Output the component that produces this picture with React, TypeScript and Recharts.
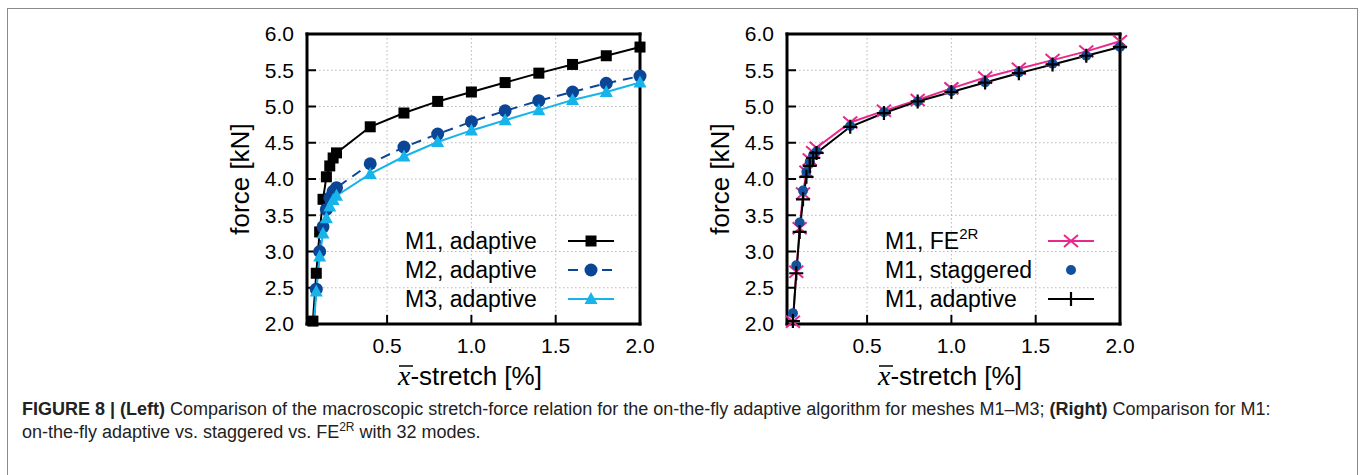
import React from "react";
import { ComposedChart, Line, Scatter, XAxis, YAxis, CartesianGrid } from "recharts";

// x̄-stretch [%] sample positions shared by every series
const STRETCH = [0.06, 0.08, 0.1, 0.12, 0.14, 0.16, 0.18, 0.2, 0.4, 0.6, 0.8, 1.0, 1.2, 1.4, 1.6, 1.8, 2.0];
const X_TICKS = [0.5, 1.0, 1.5, 2.0];
const Y_TICKS = [2.0, 2.5, 3.0, 3.5, 4.0, 4.5, 5.0, 5.5, 6.0];

// force [kN]
const M1_ADAPTIVE = [2.04, 2.7, 3.27, 3.72, 4.03, 4.18, 4.29, 4.36, 4.72, 4.91, 5.07, 5.2, 5.33, 5.46, 5.58, 5.7, 5.82];
const M2_ADAPTIVE = [1.85, 2.48, 3.0, 3.34, 3.58, 3.74, 3.83, 3.88, 4.21, 4.44, 4.62, 4.79, 4.94, 5.08, 5.2, 5.32, 5.42];
const M3_ADAPTIVE = [1.8, 2.45, 2.93, 3.25, 3.46, 3.62, 3.71, 3.77, 4.07, 4.31, 4.51, 4.67, 4.81, 4.95, 5.09, 5.2, 5.33];
const M1_FE2R = [2.03, 2.72, 3.32, 3.8, 4.1, 4.27, 4.37, 4.43, 4.78, 4.94, 5.09, 5.25, 5.4, 5.52, 5.64, 5.76, 5.9];
const M1_STAGGERED = [2.15, 2.81, 3.4, 3.84, 4.1, 4.24, 4.33, 4.38, 4.73, 4.92, 5.07, 5.21, 5.33, 5.47, 5.59, 5.7, 5.82];

const FONT = "'Liberation Sans', Arial, Helvetica, sans-serif";

type Marker = "square" | "circle" | "triangle" | "cross" | "dot" | "plus";

type Series = {
  label: React.ReactNode;
  ys: number[];
  color: string;
  dash?: string;
  line: boolean;
  marker: Marker;
};

const points = (ys: number[]) => STRETCH.map((x, i) => ({ x, y: ys[i] }));

function drawMarker(kind: Marker, cx: number, cy: number, color: string) {
  switch (kind) {
    case "square":
      return <rect x={cx - 5.5} y={cy - 5.5} width={11} height={11} fill={color} />;
    case "circle":
      return <circle cx={cx} cy={cy} r={6.5} fill={color} />;
    case "triangle":
      return <path d={`M${cx},${cy - 7}L${cx + 6.5},${cy + 5}L${cx - 6.5},${cy + 5}Z`} fill={color} />;
    case "dot":
      return <circle cx={cx} cy={cy} r={5} fill={color} />;
    case "cross":
      return (
        <path
          d={`M${cx - 7},${cy - 6}L${cx + 7},${cy + 6}M${cx - 7},${cy + 6}L${cx + 7},${cy - 6}`}
          stroke={color}
          strokeWidth={2}
          fill="none"
        />
      );
    default:
      return (
        <path
          d={`M${cx - 7},${cy}L${cx + 7},${cy}M${cx},${cy - 7}L${cx},${cy + 7}`}
          stroke={color}
          strokeWidth={2.2}
          fill="none"
        />
      );
  }
}

const leftSeries: Series[] = [
  { label: "M1, adaptive", ys: M1_ADAPTIVE, color: "#000000", line: true, marker: "square" },
  { label: "M2, adaptive", ys: M2_ADAPTIVE, color: "#0b4596", dash: "10 7", line: true, marker: "circle" },
  { label: "M3, adaptive", ys: M3_ADAPTIVE, color: "#17b3eb", line: true, marker: "triangle" },
];

const rightSeries: Series[] = [
  {
    label: (
      <>
        <tspan>M1, FE</tspan>
        <tspan dy={-10} fontSize={15}>
          2R
        </tspan>
      </>
    ),
    ys: M1_FE2R,
    color: "#e8288c",
    line: true,
    marker: "cross",
  },
  { label: "M1, staggered", ys: M1_STAGGERED, color: "#15509c", line: false, marker: "dot" },
  { label: "M1, adaptive", ys: M1_ADAPTIVE, color: "#000000", line: true, marker: "plus" },
];

const axisLine = { stroke: "#000", strokeWidth: 3, strokeLinecap: "square" as const };
const tickLine = { stroke: "#000", strokeWidth: 2 };
const tickStyle = { fill: "#000", fontSize: 21, fontFamily: FONT };
const fmt = (v: number) => v.toFixed(1);

function Panel({ left, series }: { left: number; series: Series[] }) {
  return (
    <>
      <div style={{ position: "absolute", left: left + 200, top: 0 }}>
        <ComposedChart width={470} height={400} margin={{ top: 33, right: 29, bottom: 36, left: 47 }}>
          <CartesianGrid stroke="#b8b8b8" strokeDasharray="1.5 2.5" />
          <XAxis
            dataKey="x"
            type="number"
            domain={[0.025, 2]}
            ticks={X_TICKS}
            interval={0}
            height={40}
            tickSize={-9}
            tickMargin={23}
            tickFormatter={fmt}
            tick={tickStyle}
            tickLine={tickLine}
            axisLine={axisLine}
          />
          <XAxis
            xAxisId="top"
            orientation="top"
            dataKey="x"
            type="number"
            domain={[0.025, 2]}
            ticks={X_TICKS}
            interval={0}
            height={1}
            tickSize={-9}
            tick={false}
            tickLine={tickLine}
            axisLine={axisLine}
          />
          <YAxis
            type="number"
            domain={[2, 6]}
            ticks={Y_TICKS}
            interval={0}
            allowDataOverflow
            width={60}
            tickSize={-9}
            tickMargin={22}
            tickFormatter={fmt}
            tick={tickStyle}
            tickLine={tickLine}
            axisLine={axisLine}
          />
          <YAxis
            yAxisId="right"
            orientation="right"
            dataKey="y"
            type="number"
            domain={[2, 6]}
            ticks={Y_TICKS}
            interval={0}
            width={1}
            tickSize={-9}
            tick={false}
            tickLine={tickLine}
            axisLine={axisLine}
          />
          {series.flatMap((s, i) => [
            s.line ? (
              <Line
                key={`line-${i}`}
                data={points(s.ys)}
                dataKey="y"
                type="linear"
                stroke={s.color}
                strokeWidth={2}
                strokeDasharray={s.dash}
                dot={false}
                activeDot={false}
                isAnimationActive={false}
              />
            ) : null,
            <Scatter
              key={`pts-${i}`}
              data={points(s.ys).filter((p) => p.y >= 2)}
              xAxisId="top"
              yAxisId="right"
              dataKey="y"
              isAnimationActive={false}
              shape={(p: any) => drawMarker(s.marker, p.cx, p.cy, s.color)}
            />,
          ])}
        </ComposedChart>
      </div>
      <svg
        width={680}
        height={400}
        style={{ position: "absolute", left, top: 0, pointerEvents: "none" }}
        fontFamily={FONT}
      >
        <text
          x={240}
          y={179}
          transform="rotate(-90 240 179)"
          textAnchor="middle"
          dominantBaseline="central"
          fontSize={26}
        >
          force [kN]
        </text>
        <text x={398} y={385} fontSize={26}>
          <tspan fontFamily="'Liberation Serif', 'DejaVu Serif', serif" fontStyle="italic" fontSize={28}>
            x
          </tspan>
          <tspan>-stretch [%]</tspan>
        </text>
        <line x1={399} x2={413} y1={366} y2={366} stroke="#000" strokeWidth={1.5} />
        {series.map((s, i) => (
          <g key={i}>
            <text x={405} y={249 + i * 29} fontSize={23}>
              {s.label}
            </text>
            {s.line ? (
              <line
                x1={568}
                x2={614}
                y1={241 + i * 29}
                y2={241 + i * 29}
                stroke={s.color}
                strokeWidth={2}
                strokeDasharray={s.dash}
              />
            ) : null}
            {drawMarker(s.marker, 591, 241 + i * 29, s.color)}
          </g>
        ))}
      </svg>
    </>
  );
}

export default function App() {
  return (
    <div
      style={{
        position: "absolute",
        left: 0,
        top: 0,
        width: 1360,
        height: 475,
        overflow: "hidden",
        background: "#fff",
      }}
    >
      <div
        style={{
          position: "absolute",
          left: 7,
          top: 8,
          width: 1349,
          height: 480,
          border: "1.5px solid #8a8a8a",
        }}
      />
      <Panel left={0} series={leftSeries} />
      <Panel left={480} series={rightSeries} />
      <div
        style={{
          position: "absolute",
          left: 22,
          top: 398,
          width: 1330,
          fontFamily: FONT,
          fontSize: 18,
          lineHeight: "23px",
          color: "#222",
          whiteSpace: "nowrap",
        }}
      >
        <b>FIGURE 8 | (Left)</b> Comparison of the macroscopic stretch-force relation for the on-the-fly adaptive
        algorithm for meshes M1–M3; <b>(Right)</b> Comparison for M1:
        <br />
        on-the-fly adaptive vs. staggered vs. FE<sup style={{ fontSize: 12, lineHeight: 0 }}>2R</sup> with 32 modes.
      </div>
    </div>
  );
}
